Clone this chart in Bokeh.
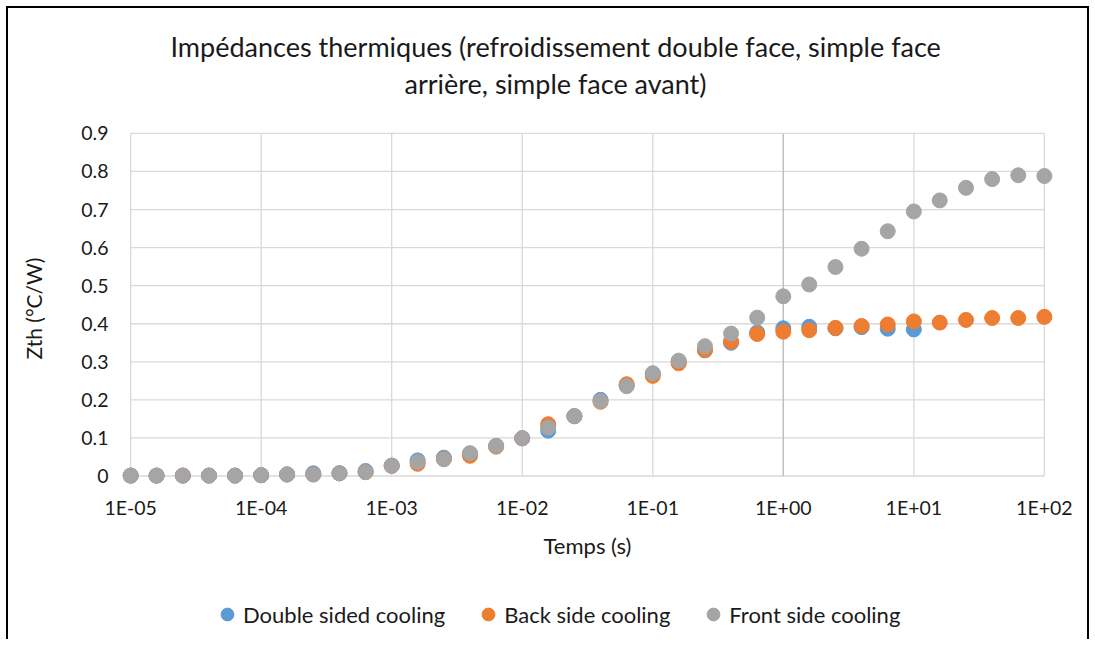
from bokeh.plotting import figure
from bokeh.layouts import column
from bokeh.models import Range1d, FixedTicker, Legend, LegendItem, Title
from bokeh.embed import file_html
from bokeh.resources import INLINE

# ---- data ----
times = [1.00e-05, 1.58e-05, 2.51e-05, 3.98e-05, 6.31e-05,
         1.00e-04, 1.58e-04, 2.51e-04, 3.98e-04, 6.31e-04,
         1.00e-03, 1.58e-03, 2.51e-03, 3.98e-03, 6.31e-03,
         1.00e-02, 1.58e-02, 2.51e-02, 3.98e-02, 6.31e-02,
         1.00e-01, 1.58e-01, 2.51e-01, 3.98e-01, 6.31e-01,
         1.00e+00, 1.58e+00, 2.51e+00, 3.98e+00, 6.31e+00,
         1.00e+01, 1.58e+01, 2.51e+01, 3.98e+01, 6.31e+01,
         1.00e+02]

double_sided = [0.001, 0.001, 0.001, 0.001, 0.001, 0.002, 0.004, 0.007, 0.007, 0.013,
                0.027, 0.041, 0.048, 0.058, 0.079, 0.099, 0.119, 0.157, 0.200, 0.238,
                0.268, 0.300, 0.330, 0.350, 0.377, 0.388, 0.392, 0.388, 0.391, 0.387,
                0.385]

back_side = [0.001, 0.001, 0.001, 0.001, 0.001, 0.002, 0.004, 0.004, 0.007, 0.010,
             0.027, 0.032, 0.045, 0.053, 0.077, 0.099, 0.136, 0.157, 0.195, 0.241,
             0.263, 0.296, 0.331, 0.353, 0.373, 0.379, 0.383, 0.389, 0.394, 0.398,
             0.406, 0.403, 0.410, 0.415, 0.415, 0.418]

front_side = [0.001, 0.001, 0.001, 0.001, 0.001, 0.002, 0.004, 0.004, 0.007, 0.010,
              0.027, 0.037, 0.044, 0.060, 0.079, 0.099, 0.127, 0.157, 0.197, 0.236,
              0.270, 0.303, 0.341, 0.374, 0.416, 0.472, 0.503, 0.549, 0.597, 0.643,
              0.695, 0.724, 0.757, 0.780, 0.790, 0.788]

series_names = ["Double sided cooling", "Back side cooling", "Front side cooling"]

x_ticks = [1e-05, 1e-04, 1e-03, 1e-02, 1e-01, 1e+00, 1e+01, 1e+02]
x_tick_labels = ["1E-05", "1E-04", "1E-03", "1E-02", "1E-01", "1E+00", "1E+01", "1E+02"]
y_ticks = [0, 0.1, 0.2, 0.3, 0.4, 0.5, 0.6, 0.7, 0.8, 0.9]
y_tick_labels = ["0", "0.1", "0.2", "0.3", "0.4", "0.5", "0.6", "0.7", "0.8", "0.9"]

title_line1 = "Impédances thermiques (refroidissement double face, simple face"
title_line2 = "arrière, simple face avant)"
x_title = "Temps (s)"
y_title = "Zth (°C/W)"

# ---- styles ----
FONT = "Lato"
TXT = "#1a1a1a"
GRID = "#d9d9d9"
COLORS = ["#5B9BD5", "#ED7D31", "#A5A5A5"]
SERIES = [double_sided, back_side, front_side]

p = figure(frame_width=932, frame_height=354, x_axis_type="log",
           x_range=Range1d(10 ** -5.07, 10 ** 2.07), y_range=Range1d(-0.025, 0.905),
           output_backend="svg", toolbar_location=None, title=None,
           min_border_left=113, min_border_right=34, min_border_top=123, min_border_bottom=100)
p.outline_line_color = None
p.xgrid.visible = False
p.ygrid.visible = False

# gridlines drawn as segments so they stop at the data extents
p.segment(x0=[x_ticks[0]] * len(y_ticks), y0=y_ticks, x1=[x_ticks[-1]] * len(y_ticks), y1=y_ticks,
          line_color=GRID, line_width=1.3)
p.segment(x0=x_ticks, y0=[y_ticks[0]] * len(x_ticks), x1=x_ticks, y1=[y_ticks[-1]] * len(x_ticks),
          line_color=GRID, line_width=1.3)
p.segment(x0=[1.0], y0=[y_ticks[0]], x1=[1.0], y1=[y_ticks[-1]], line_color="#bfbfbf", line_width=1.3)

for vals, c in zip(SERIES, COLORS):
    p.scatter(times[:len(vals)], vals, size=15, color=c)

# axes
p.xaxis.ticker = FixedTicker(ticks=x_ticks, minor_ticks=[])
p.xaxis.major_label_overrides = {t: l for t, l in zip(x_ticks, x_tick_labels)}
p.yaxis.ticker = FixedTicker(ticks=y_ticks, minor_ticks=[])
p.yaxis.major_label_overrides = {t: l for t, l in zip(y_ticks, y_tick_labels)}
for ax in (p.xaxis[0], p.yaxis[0]):
    ax.axis_line_color = None
    ax.major_tick_line_color = None
    ax.minor_tick_line_color = None
    ax.major_tick_out = 0
    ax.major_tick_in = 0
    ax.minor_tick_out = 0
    ax.minor_tick_in = 0
    ax.major_label_text_font = FONT
    ax.major_label_text_font_size = "19.5px"
    ax.major_label_text_color = TXT
    ax.axis_label_text_font = FONT
    ax.axis_label_text_font_style = "normal"
    ax.axis_label_text_color = TXT
p.xaxis.axis_label = x_title
p.yaxis.axis_label = y_title
p.xaxis.axis_label_text_font_size = "22px"
p.yaxis.axis_label_text_font_size = "21px"
p.xaxis.major_label_standoff = 10
p.yaxis.major_label_standoff = 13
p.xaxis.axis_label_standoff = 10
p.yaxis.axis_label_standoff = 32

# titles: spacer closest to the frame, then line 2, then line 1
p.add_layout(Title(text=" ", text_font_size="1px", standoff=27), "above")
p.add_layout(Title(text=title_line2, align="left", offset=283, text_font=FONT, text_font_size="27px",
                   text_font_style="normal", text_color=TXT, standoff=4), "above")
p.add_layout(Title(text=title_line1, align="left", offset=49, text_font=FONT, text_font_size="27px",
                   text_font_style="normal", text_color=TXT, standoff=0), "above")

# ---- legend strip (separate figure below the chart, frames aligned by the column) ----
lf = figure(width=1079, height=54, x_range=Range1d(0, 1), y_range=Range1d(10, 11),
            output_backend="svg", toolbar_location=None, title=None,
            x_axis_location=None, y_axis_location=None, min_border=0)
lf.outline_line_color = None
lf.xgrid.visible = False
lf.ygrid.visible = False
# same series drawn out of view: only their legend swatches show
leg_renderers = [lf.scatter(times[:len(vals)], vals, size=15, color=c) for vals, c in zip(SERIES, COLORS)]
legend = Legend(items=[LegendItem(label=n, renderers=[r]) for n, r in zip(series_names, leg_renderers)],
                orientation="horizontal", location=(90, 9),
                border_line_color=None, background_fill_alpha=0,
                label_text_font=FONT, label_text_font_size="22px", label_text_color=TXT,
                glyph_width=32, glyph_height=32, label_standoff=0, spacing=27,
                padding=0, margin=0)
lf.add_layout(legend, "center")

layout = column(p, lf, spacing=0)
layout.styles = {"margin-left": "8px", "margin-top": "8px",
                 "box-shadow": "-2px 0 0 0 #000, 2px 0 0 0 #000, 0 -2px 0 0 #000, -2px -2px 0 0 #000, 2px -2px 0 0 #000"}

open("out.html", "w").write(file_html(layout, INLINE))
